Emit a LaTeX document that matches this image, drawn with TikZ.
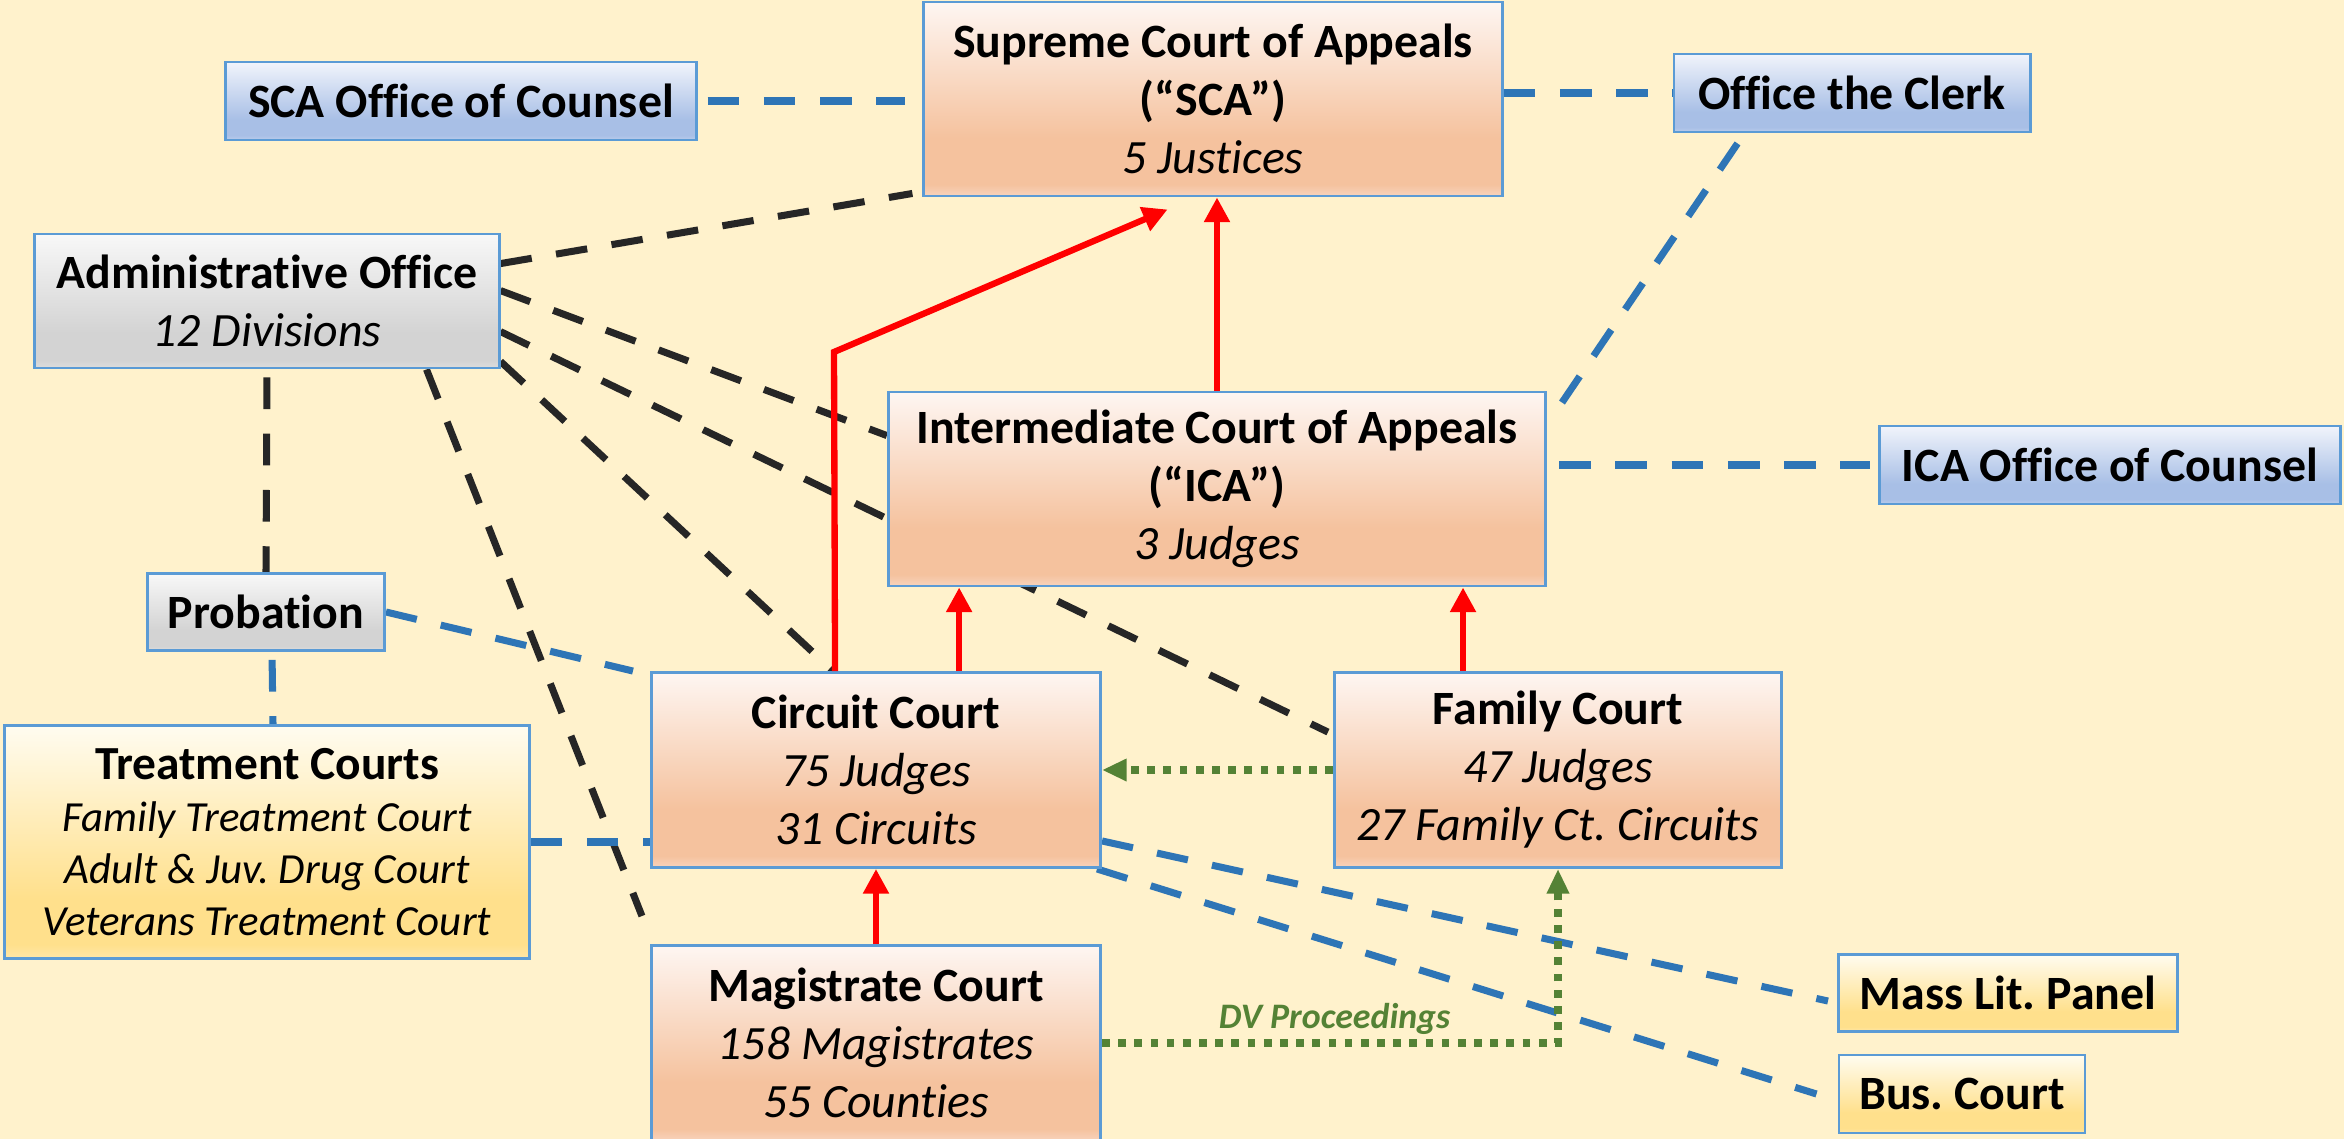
\documentclass[tikz,border=0pt]{standalone}
\usepackage{fontspec}
\setmainfont{Carlito}[Ligatures={NoCommon,NoContextual}]
\usetikzlibrary{arrows.meta,positioning}
\frenchspacing

\definecolor{bgyellow}{HTML}{FFF2CC}
\definecolor{boxline}{HTML}{5B9BD5}
\definecolor{bluedash}{HTML}{2E75B6}
\definecolor{blackdash}{HTML}{262626}
\definecolor{dvgreen}{HTML}{548235}
\definecolor{orgT}{HTML}{FEF6F2}
\definecolor{orgD}{HTML}{F5C29E}
\definecolor{orgE}{HTML}{F8D3BC}
\definecolor{blueT}{HTML}{F1F4FB}
\definecolor{blueD}{HTML}{A8BFE6}
\definecolor{blueE}{HTML}{BCCDEC}
\definecolor{grayT}{HTML}{F8F8F8}
\definecolor{grayD}{HTML}{D3D3D3}
\definecolor{grayE}{HTML}{DDDDDD}
\definecolor{yelT}{HTML}{FFFCF0}
\definecolor{yelD}{HTML}{FFE08C}
\definecolor{yelE}{HTML}{FFE7A8}

\pgfdeclareverticalshading{courtshade}{100bp}{color(0bp)=(orgE); color(25bp)=(orgE); color(28bp)=(orgD); color(40bp)=(orgD); color(75bp)=(orgT); color(100bp)=(orgT)}
\pgfdeclareverticalshading{officeshade}{100bp}{color(0bp)=(blueE); color(25bp)=(blueE); color(28bp)=(blueD); color(38bp)=(blueD); color(75bp)=(blueT); color(100bp)=(blueT)}
\pgfdeclareverticalshading{supportshade}{100bp}{color(0bp)=(grayE); color(25bp)=(grayE); color(28bp)=(grayD); color(38bp)=(grayD); color(75bp)=(grayT); color(100bp)=(grayT)}
\pgfdeclareverticalshading{specialshade}{100bp}{color(0bp)=(yelE); color(25bp)=(yelE); color(28bp)=(yelD); color(38bp)=(yelD); color(75bp)=(yelT); color(100bp)=(yelT)}

\pgfdeclarelayer{bg}
\pgfdeclarelayer{links}
\pgfsetlayers{bg,links,main}

\newcommand{\tcline}[1]{{\fontsize{12.2}{14.8}\selectfont\itshape #1}}

\begin{document}
\begin{tikzpicture}[x=0.01cm,y=-0.01cm,
    box/.style={draw=boxline, line width=0.8pt, align=center, inner sep=0pt, shade,
      font=\fontsize{13.6}{16.5}\selectfont},
    court/.style={box, shading=courtshade},
    office/.style={box, shading=officeshade},
    support/.style={box, shading=supportshade},
    special/.style={box, shading=specialshade},
    blackline/.style={draw=blackdash, line width=2pt, dash pattern=on 9pt off 7pt},
    blueline/.style={draw=bluedash, line width=2pt, dash pattern=on 9pt off 7pt},
    appeal/.style={draw=red, line width=1.8pt, -{Triangle[length=7pt,width=7pt]}},
    transfer/.style={draw=dvgreen, line width=2pt, dash pattern=on 2.2pt off 2.4pt, -{Triangle[length=7pt,width=6pt]}}]
          \begin{pgfonlayer}{bg}
            \fill[bgyellow] (0,0) rectangle (2344,1139);
          \end{pgfonlayer}
          \useasboundingbox (0,0) rectangle (2344,1139);

          \node[court, minimum width=5.78cm, minimum height=1.94cm] (sca) at (1213,99) {\textbf{Supreme Court of Appeals}\\\textbf{(“SCA”)}\\\textit{5 Justices}};
          \node[office, minimum width=4.70cm, minimum height=0.78cm] (scaoc) at (461,101) {\textbf{SCA Office of Counsel}};
          \node[office, minimum width=3.56cm, minimum height=0.78cm] (clerk) at (1852,93) {\textbf{Office the Clerk}};
          \node[support, minimum width=4.64cm, minimum height=1.34cm] (admin) at (267,301) {\textbf{Administrative Office}\\\textit{12 Divisions}};
          \node[court, minimum width=6.57cm, minimum height=1.94cm] (ica) at (1217,489) {\textbf{Intermediate Court of Appeals}\\\textbf{(“ICA”)}\\\textit{3 Judges}};
          \node[office, minimum width=4.60cm, minimum height=0.78cm] (icaoc) at (2110,465) {\textbf{ICA Office of Counsel}};
          \node[support, minimum width=2.37cm, minimum height=0.77cm] (prob) at (266,612) {\textbf{Probation}};
          \node[court, minimum width=4.49cm, minimum height=1.95cm] (circ) at (876,770) {\textbf{Circuit Court}\\\textit{75 Judges}\\\textit{31 Circuits}};
          \node[court, minimum width=4.47cm, minimum height=1.95cm] (fam) at (1558,770) {\textbf{Family Court}\\\textit{47 Judges}\\\textit{27 Family Ct. Circuits}};
          \node[special, minimum width=5.24cm, minimum height=2.33cm, font=\fontsize{13.5}{14.8}\selectfont] (treat) at (267,842) {\textbf{Treatment Courts}\\\tcline{Family Treatment Court}\\\tcline{Adult \& Juv. Drug Court}\\\tcline{Veterans Treatment Court}};
          \node[court, minimum width=4.49cm, minimum height=1.95cm] (mag) at (876,1043) {\textbf{Magistrate Court}\\\textit{158 Magistrates}\\\textit{55 Counties}};
          \node[special, minimum width=3.39cm, minimum height=0.77cm] (mlp) at (2008,993) {\textbf{Mass Lit. Panel}};
          \node[special, minimum width=2.46cm, minimum height=0.78cm] (bus) at (1962,1094) {\textbf{Bus. Court}};

          \coordinate (bend) at (834,352);
          \coordinate (c1) at ([xshift=1.85cm]circ.north west);
          \coordinate (c2) at ([xshift=3.09cm]circ.north west);
          \coordinate (f1) at ([xshift=1.30cm]fam.north west);

          \begin{pgfonlayer}{links}
            % admin office
            \draw[blackline] ([yshift=-0.31cm]admin.north east) -- ([xshift=-0.1cm,yshift=0.04cm]sca.south west);
            \draw[blackline] ([yshift=-0.58cm]admin.north east) -- ([yshift=-0.45cm]ica.north west);
            \draw[blackline] ([yshift=-0.99cm]admin.north east) -- ([xshift=-0.05cm,yshift=-0.61cm]fam.north west);
            \draw[blackline] ([yshift=0.08cm]admin.south east) -- ([xshift=1.83cm]circ.north west);
            \draw[blackline] ([xshift=-0.74cm]admin.south east) -- ([xshift=-0.08cm,yshift=0.28cm]mag.north west);
            \draw[blackline, shorten <=0.08cm] (admin.south) -- (prob.north);
            % offices and panels
            \draw[blueline, shorten <=0.1cm, shorten >=0.17cm] (scaoc.east) -- (scaoc.east -| sca.west);
            \draw[blueline] (sca.east |- clerk.west) -- (clerk.west);
            \draw[blueline] ([xshift=0.65cm,yshift=-0.1cm]clerk.south west) -- ([xshift=0.02cm,yshift=-0.31cm]ica.north east);
            \draw[blueline, shorten <=0.12cm, shorten >=0.08cm] (ica.east |- icaoc.west) -- (icaoc.west);
            \draw[blueline] (prob.east) -- ([xshift=-0.17cm]circ.north west);
            \draw[blueline, shorten <=0.08cm] ([xshift=0.06cm]prob.south) -- ([xshift=0.06cm]treat.north);
            \draw[blueline] (treat.east) -- (treat.east -| circ.west);
            \draw[blueline] ([yshift=0.28cm]circ.south east) -- ([xshift=-0.09cm,yshift=-0.08cm]mlp.west);
            \draw[blueline] ([xshift=-0.05cm]circ.south east) -- ([xshift=-0.21cm]bus.west);
          \end{pgfonlayer}

          % appeals
          \draw[appeal] (ica.north) -- (ica.north |- sca.south);
          \draw[appeal] (c1) -- (bend) -- ([xshift=2.45cm,yshift=-0.12cm]sca.south west);
          \draw[appeal] (c2) -- (c2 |- ica.south);
          \draw[appeal] (f1) -- (f1 |- ica.south);
          \draw[appeal] (mag.north) -- (circ.south);
          \draw[transfer] (fam.west) -- (circ.east);
          \draw[transfer] (mag.east) -| node[pos=0.255, above, inner sep=1.5pt, text=dvgreen, font=\fontsize{10.2}{12}\selectfont\bfseries\itshape] (dvlab) {DV Proceedings} (fam.south);
        \end{tikzpicture}
\end{document}
